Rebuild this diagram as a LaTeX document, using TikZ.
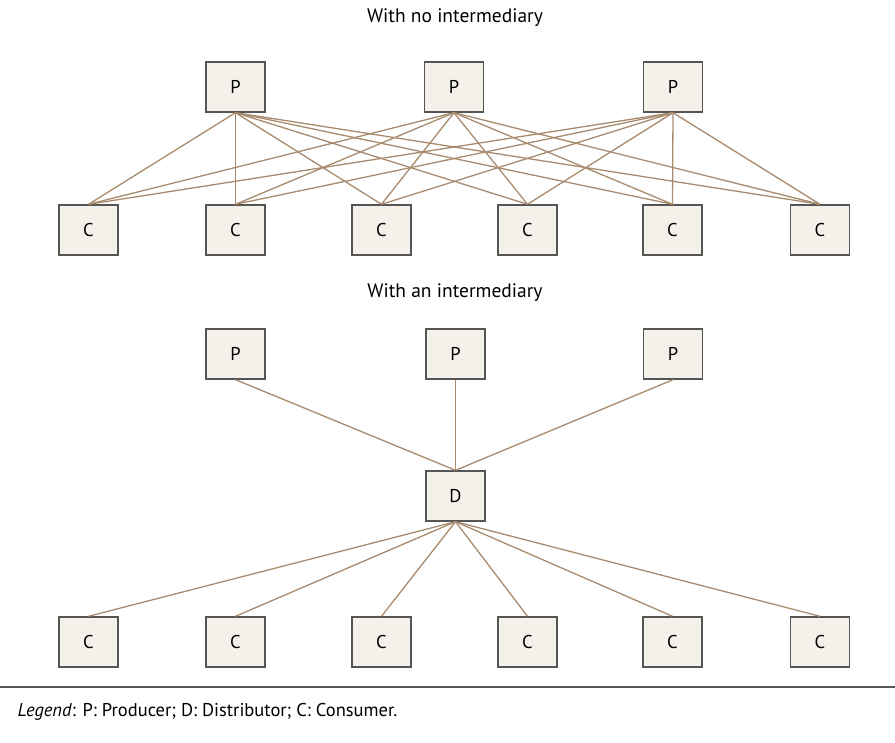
\documentclass[tikz,border=0pt]{standalone}
\usepackage{fontspec}
\setmainfont{PT Sans}
\definecolor{boxfill}{HTML}{F4F1EA}
\definecolor{boxline}{HTML}{555555}
\definecolor{edge}{HTML}{A88A6E}
\begin{document}
\begin{tikzpicture}[x=1pt,y=-1pt,
  box/.style={draw=boxline,fill=boxfill,line width=1.4pt,minimum width=59pt,minimum height=50pt,inner sep=0pt,font=\fontsize{18.5}{22}\selectfont},
  link/.style={draw=edge,line width=1.3pt},
  title/.style={font=\fontsize{19.5}{23}\selectfont}]
\useasboundingbox (0,0) rectangle (895,743);
\node[title] (t1) at (455,18) {With no intermediary};
\node[title] (t2) at (455,293) {With an intermediary};
% top
\node[box] (p1) at (235.5,87) {P};
\node[box] (p2) at (454,87) {P};
\node[box] (p3) at (673,87) {P};
\foreach \i/\x in {1/88.5,2/235.5,3/381.5,4/527.5,5/672.5,6/820}{
  \node[box] (c\i) at (\x,230) {C};
}
\foreach \p in {p1,p2,p3}{
  \foreach \i in {1,...,6}{
    \draw[link] (\p.south) -- (c\i.north);
  }
}
% bottom
\node[box] (q1) at (235.5,354) {P};
\node[box] (q2) at (455.5,354) {P};
\node[box] (q3) at (673,354) {P};
\node[box] (d) at (455.5,496) {D};
\foreach \i/\x in {1/88.5,2/235.5,3/381.5,4/527.5,5/672.5,6/820}{
  \node[box] (e\i) at (\x,642) {C};
}
\foreach \p in {q1,q2,q3}{
  \draw[link] (\p.south) -- (d.north);
}
\foreach \i in {1,...,6}{
  \draw[link] (d.south) -- (e\i.north);
}
\coordinate (l1) at (0,687);
\coordinate (l2) at (895,687);
\draw[boxline,line width=1.2pt] (l1) -- (l2);
\node[anchor=west,font=\fontsize{18.5}{22}\selectfont] (leg) at (14,712) {\textit{Legend}: P: Producer; D: Distributor; C: Consumer.};
\end{tikzpicture}
\end{document}
